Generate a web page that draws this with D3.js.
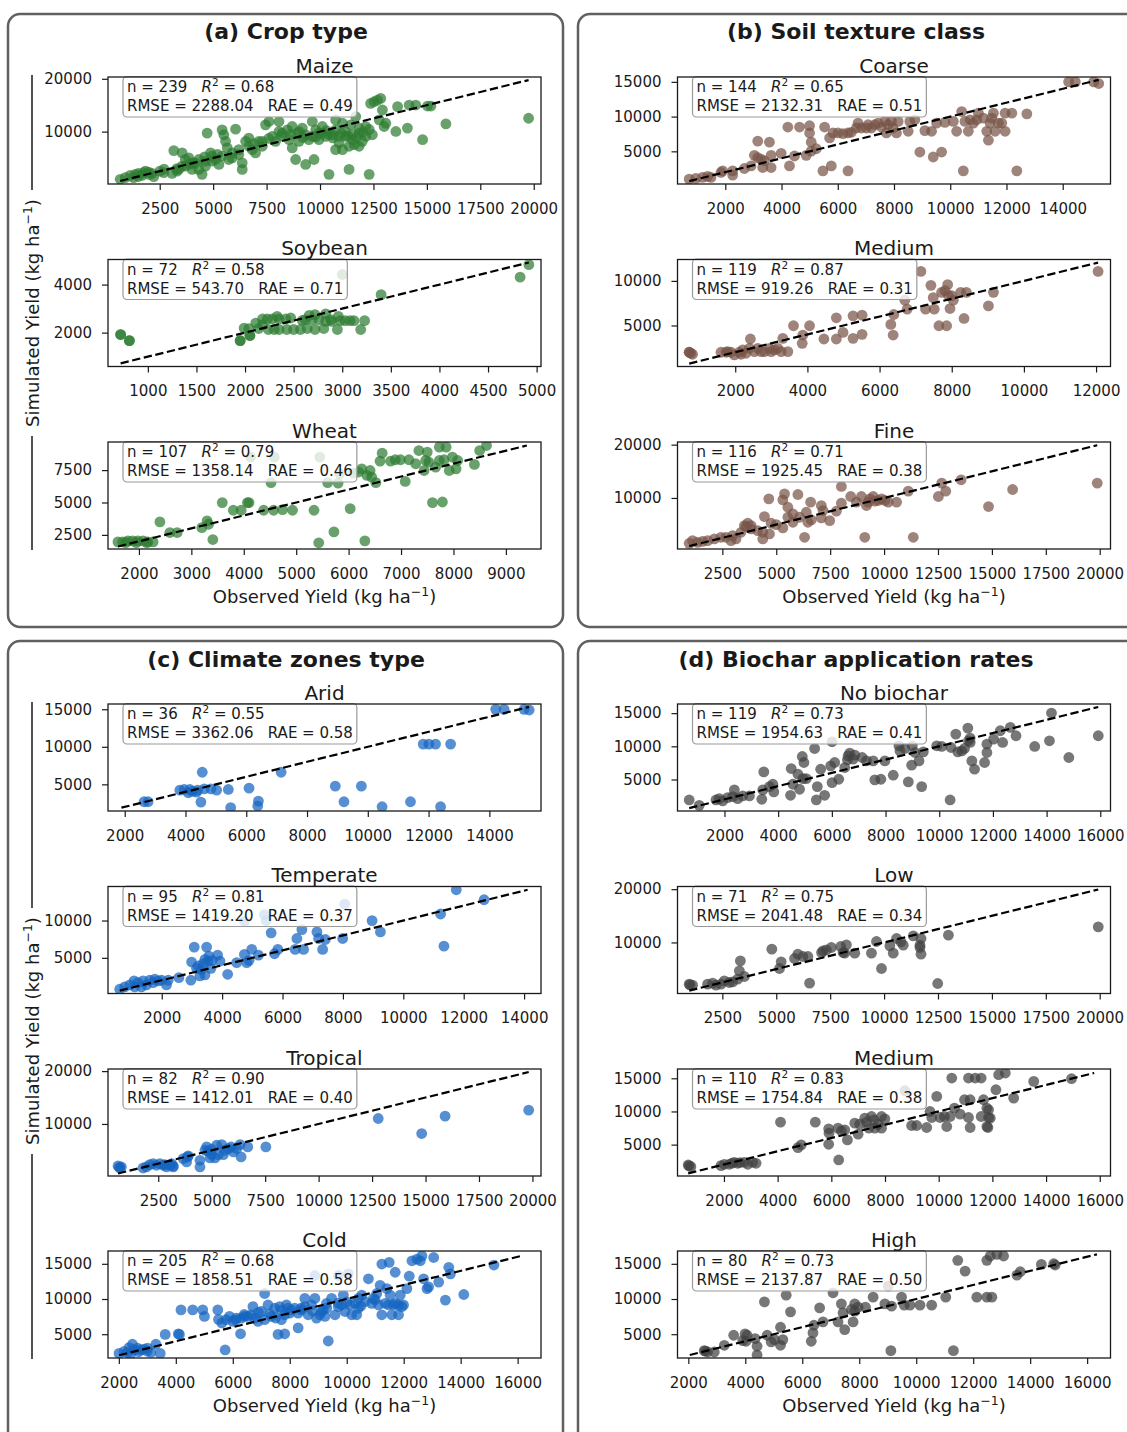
<!DOCTYPE html>
<html>
<head>
<meta charset="utf-8">
<script src="https://cdn.jsdelivr.net/npm/d3@7"></script>
<style>
  body { margin: 0; background: #fff; }
  svg { display: block; }
  text { font-family: "DejaVu Sans", sans-serif; }
</style>
</head>
<body>
<svg id="chart"></svg>
<script>
// observed vs simulated yield, [observed, simulated] pairs
const maize = [[650,970],[890,1280],[1120,1720],[1360,1910],[1510,2100],[1750,2220],[1980,2340],[2220,1470],[1280,1280],[1670,1720],[1830,2530],[2140,2100],[2690,2220],[3080,2100],[3160,6410],[3310,2530],[3550,3470],[3550,5970],[3700,4720],[3860,5030],[3940,3780],[4020,2840],[4170,4090],[4330,2840],[4480,1910],[4640,4410],[4720,9720],[4880,5970],[4950,5340],[5110,4720],[5270,3780],[5420,10340],[5500,9410],[5580,8160],[5660,6910],[5730,4720],[5890,5970],[6050,10470],[6200,6590],[6360,2840],[6360,4090],[6520,8160],[6670,8780],[6830,6590],[6980,5970],[7140,8160],[7300,7220],[7450,11280],[7610,11910],[7770,9090],[7920,8160],[8080,11910],[8230,9720],[8470,10340],[8630,9410],[8700,6910],[8860,4720],[9020,8160],[9170,10660],[9330,3780],[9480,8470],[9640,11910],[9720,4720],[9950,9720],[10110,10970],[10270,9090],[10420,1910],[10580,9410],[10730,10340],[10890,7840],[11050,11590],[11200,10030],[11360,2840],[11520,8470],[11670,12840],[11830,9720],[11980,8160],[12140,10970],[12300,1910],[12370,15340],[12530,15660],[12690,15970],[12840,16280],[12920,14090],[13000,10970],[13080,11590],[13550,10030],[13630,14720],[14090,10660],[14170,15030],[14480,15030],[14800,8470],[15030,14840],[15190,14840],[15890,11470],[19760,12530],[9640,9090],[9950,8470],[9330,9410],[10890,9090],[11200,9090],[11520,9410],[11830,10660],[12140,9090],[12450,9410],[12770,12220],[9020,10030],[8550,8470],[7300,8160],[6670,7220],[6200,5660],[5890,5030],[5420,5340],[4950,4410],[4640,3470],[4330,4720],[4020,4090],[3700,3470],[3390,2840],[11360,7220],[11600,7530],[11830,7220],[11050,6590],[10730,6590],[10110,9720],[8700,10970],[8940,9720],[9800,10340],[8080,10030],[10730,12220],[11440,11280],[10400,9500],[10600,8800],[11000,9700],[11700,8900],[12000,9900],[9200,8900],[9800,9000],[10300,10200],[11300,9200],[12300,10400],[7600,8700],[8200,9200],[6900,7700],[5200,5700],[4600,5200],[3300,3000],[2700,2900],[2000,1900],[1500,1500],[2500,2500]];
const soybean = [[720,1920],[720,1920],[810,1670],[810,1670],[1950,1670],[1950,1670],[2050,1880],[2050,1880],[1990,2190],[2040,2170],[2140,2170],[2230,2570],[2240,2130],[2280,2570],[2350,2570],[2350,2130],[2420,2570],[2430,2130],[2470,2610],[2500,2130],[2570,2130],[2620,2540],[2640,2170],[2660,2720],[2720,2750],[2720,2130],[2760,2540],[2810,2170],[2830,2780],[2880,2540],[2950,2130],[2960,2680],[2980,2500],[3030,2500],[3120,2500],[3190,2130],[3230,2500],[3000,4420],[3400,3580],[4830,4310],[4920,4830],[2180,2570],[2300,2130],[2590,2510],[2690,2540],[2890,2470],[3080,2500],[2330,2680],[2110,2400],[2180,2330],[2830,2470]];
const wheat = [[1600,1960],[1690,1960],[1790,2040],[1880,2040],[1980,2040],[2080,2040],[2170,1960],[2270,1960],[1750,1900],[1950,1900],[2150,1900],[2400,3500],[2590,2680],[2730,2680],[3200,3060],[3300,3580],[3330,3320],[3410,2140],[3590,4990],[3800,4400],[3950,4400],[4070,4990],[4100,4990],[4380,4400],[4520,6530],[4570,4400],[4740,4450],[4930,4400],[5340,4400],[5430,1890],[5600,6530],[5720,2730],[5800,6500],[5830,7220],[6030,4530],[6090,7270],[6250,7600],[6310,2040],[6350,7090],[6410,7470],[6520,6530],[6600,8190],[6640,8810],[6800,8190],[6890,8300],[6990,8300],[7080,6630],[7150,8300],[7280,7990],[7340,9010],[7440,7470],[7500,8890],[7530,8120],[7600,4990],[7660,7730],[7730,9270],[7790,5040],[7820,8300],[7860,9270],[7920,7470],[8050,7600],[8080,8240],[8400,7940],[8500,9010],[8630,9400],[6190,7350],[6440,6960],[7730,8240],[7980,8500],[7470,8240],[4130,8500],[4580,8500],[5450,8500]];
const coarse = [[716,1011],[954,1106],[1192,1248],[1370,1390],[1489,1248],[1846,1959],[1905,2196],[2262,2196],[2262,1580],[2678,2528],[2916,2907],[3035,4424],[3154,6462],[3273,3855],[3332,2670],[3570,6320],[3629,4424],[3629,2670],[3986,4708],[4283,2907],[4461,4329],[4224,8500],[4640,8500],[4878,4424],[4997,8690],[4997,7647],[5056,6320],[5056,5040],[5234,5372],[5472,2196],[5532,8500],[5769,2907],[5710,6936],[5829,7647],[6007,7647],[6186,7552],[6364,7647],[6364,2196],[6483,7742],[6721,9069],[6840,8358],[7018,8358],[7196,8358],[7315,8832],[7434,9069],[7553,8500],[7672,9306],[7731,7647],[7910,9306],[7969,8358],[8088,7647],[8147,9306],[8504,7884],[8564,9306],[8920,4898],[9099,7979],[9336,7884],[9396,4187],[9515,9069],[9693,4898],[9812,9164],[10109,9306],[10228,7884],[10407,10728],[10466,2196],[10525,9306],[10644,7884],[10704,9543],[10942,9543],[11001,10491],[11179,9780],[11298,7884],[11358,6604],[11417,9069],[11536,10491],[11596,7884],[11714,9069],[11833,9069],[11952,10491],[11952,7884],[12190,10491],[12368,2196],[12725,10396],[14211,14994],[14449,14994],[15103,14994],[15281,14757],[3154,4092],[3392,3618],[7077,8832],[7791,8832],[6661,8358],[8742,9543],[10823,9069],[11477,9780]];
const mediumSoil = [[724,1997],[724,1997],[817,1775],[770,1880],[1605,1997],[1744,1997],[1883,1997],[1975,1700],[2114,1997],[2207,2258],[2300,1886],[2392,2443],[2420,3483],[2531,2072],[2624,2443],[2809,2072],[2948,2443],[3087,2258],[3180,2443],[3272,2072],[3319,3558],[3458,2072],[3615,4969],[3856,3000],[3875,3929],[4060,4969],[4458,3483],[4802,5861],[4802,3483],[4987,4226],[5265,6084],[5265,3558],[5515,6158],[5515,4004],[6312,5118],[6377,3929],[6395,6233],[6700,7830],[6765,6827],[7145,11062],[7275,6827],[7423,9501],[7488,8127],[7516,6827],[7645,4969],[7720,8720],[7859,4969],[7887,9576],[7905,8387],[7952,6901],[8044,7830],[8248,8720],[8341,5787],[8406,8720],[9017,7198],[9156,8720],[12056,11062],[7813,8905],[7998,8348],[1790,2072],[2160,1775],[2716,2072],[2994,2072]];
const fine = [[963,1487],[1118,1989],[1351,1675],[1583,1863],[1816,1989],[2126,2303],[2436,2616],[2669,2616],[2902,1989],[3134,2303],[2979,2930],[3367,3558],[3522,4813],[3677,5252],[3832,4185],[4142,3872],[4375,2303],[4375,3558],[4452,6507],[4654,9833],[4763,5252],[4995,5001],[5305,4373],[5383,10774],[5305,9644],[5538,8264],[5538,6381],[5771,5440],[5771,7009],[6003,10648],[6081,6381],[6313,2616],[6468,5440],[6391,7322],[6593,9205],[6624,5879],[7089,8578],[7167,7636],[7089,6256],[7477,5754],[7787,7511],[8020,12154],[8020,9017],[8454,10272],[8718,9205],[8950,10272],[9105,2616],[9183,8578],[9338,9833],[9493,10272],[9726,9519],[9881,9833],[10191,9205],[10579,9205],[11122,11276],[11355,2616],[12518,10272],[12673,12781],[12859,11276],[13572,13409],[14844,8389],[15961,11590],[19885,12781],[10036,9519],[9571,9393],[9260,9205],[4685,3244],[3832,4813],[3600,4624]];
const arid = [[2638,2685],[2770,2685],[3815,4228],[3958,4317],[4090,3876],[4222,4052],[4398,4228],[4508,2641],[4552,6610],[4618,4405],[4838,4405],[5025,4228],[5410,4317],[5487,1891],[6092,4493],[6400,2773],[6378,2112],[7148,6610],[8930,4758],[9216,2685],[9788,4758],[10470,2023],[11405,2685],[11823,10358],[12010,10358],[12230,10358],[12395,2023],[12725,10358],[14210,14989],[14485,14989],[15145,14989],[15310,14900],[4365,3964],[4145,4317]];
const temperate = [[607,797],[773,1108],[940,1374],[1083,1907],[1106,1108],[1216,1685],[1327,1108],[1382,1907],[1493,1374],[1604,1996],[1714,1685],[1770,2129],[1881,1907],[1991,1996],[2157,1374],[2213,1996],[2567,2351],[2965,2000],[2988,4438],[3076,6436],[3154,3594],[3264,2573],[3375,4216],[3430,4793],[3486,6436],[3541,4571],[3630,3594],[3674,4660],[3851,5370],[3928,4571],[4183,2795],[4482,4349],[4737,5459],[4814,4349],[4980,6125],[4892,4660],[5202,5370],[4737,9899],[5401,10787],[5457,9988],[5623,8345],[5734,5548],[5844,6125],[6420,6125],[6475,7590],[6641,8789],[6697,6125],[7139,8478],[7195,7590],[7328,6125],[7416,7457],[7992,7590],[8058,12208],[8965,9988],[9242,8478],[11235,10876],[11345,6569],[11755,14117],[12674,12785],[3209,3905],[3320,3461],[3430,2706],[3563,5237]];
const tropical = [[619,2048],[697,1668],[775,1859],[697,1800],[1792,1668],[1949,1859],[2105,2301],[2261,2491],[2418,2175],[2574,2491],[2731,2175],[2887,1859],[3043,2175],[3200,1859],[3122,2491],[3825,2808],[3872,3757],[3904,3947],[4451,1859],[4451,3124],[4764,5655],[4842,4833],[4998,4200],[4998,5212],[5155,3567],[5233,5972],[5468,6098],[5546,4200],[5780,5339],[5905,5655],[6015,4706],[6327,6098],[6374,3757],[6687,5655],[7532,5655],[12787,11034],[14820,8187],[15915,11477],[19825,12616],[4686,5022],[4920,3567],[5311,4200],[5624,5022],[6171,5339],[3669,3440],[2809,2301],[3200,2048]];
const cold = [[2008,2272],[2184,2550],[2360,3108],[2478,3573],[2537,2763],[2654,3015],[2772,2763],[2889,2875],[3007,3015],[3124,2411],[3300,3573],[3453,2272],[2419,2178],[3629,4968],[4088,5061],[4126,4968],[4182,8456],[4593,8456],[4946,8456],[5004,7526],[5474,8456],[5615,6596],[5733,2763],[5768,7061],[5885,7526],[6003,6828],[6120,7293],[6273,5061],[6297,7293],[6414,7526],[6532,7526],[6649,7758],[6708,8921],[6767,7293],[6884,6828],[7002,8223],[7119,10781],[7119,7061],[7237,9153],[7354,7526],[7472,8688],[7589,4968],[7648,8921],[7707,7061],[7824,5061],[7824,7758],[7883,9153],[7942,8688],[8059,8456],[8177,8688],[8294,7991],[8294,5898],[8412,8456],[8529,10083],[8529,8921],[8647,7758],[8764,9153],[8882,10083],[8940,7293],[9058,7758],[9175,8456],[9234,7526],[9293,9386],[9352,4038],[9469,10083],[9587,7758],[9704,8921],[9822,9153],[9880,10548],[10057,13571],[10115,9153],[10174,7758],[10292,9386],[10350,7758],[10409,10083],[10527,10548],[10644,9618],[10762,12873],[10879,9386],[10938,10083],[11055,10781],[11173,11943],[11232,7758],[11349,9386],[11408,11478],[11467,9153],[11526,10548],[11584,7758],[11643,9153],[11702,9386],[11819,7758],[11878,10548],[11937,8921],[11996,9153],[12113,11478],[12195,13245],[12289,15431],[12465,15663],[12583,15431],[12641,16128],[12700,12873],[12818,11478],[12876,11711],[13053,15896],[13229,12408],[13464,9851],[13582,14500],[13640,13571],[14110,10641],[15168,14826],[11232,14966],[11490,15198],[11702,13803],[9117,8223],[9939,8223],[10409,8688],[11819,9153],[11114,9153],[8882,13338],[9704,13338],[6400,7800],[6900,8100],[7300,7900],[7700,8400],[8000,8000],[8400,8700],[8800,8300],[9300,8700],[9700,9400],[10000,9600],[10500,9000],[11000,9900],[7500,7300],[6100,7000],[5500,7100],[3000,2600],[2700,2500],[2300,2400]];
const noBiochar = [[686,1913],[1060,1107],[1683,1913],[1808,2115],[1932,1762],[2119,2266],[2306,2417],[2368,3425],[2493,2115],[2680,2518],[2929,2518],[3390,2014],[3427,3425],[3465,6147],[3676,3929],[3801,4282],[3838,3123],[4461,2619],[4486,6651],[4549,4282],[4736,5794],[4798,3526],[4898,8465],[4960,7558],[4923,5139],[5047,5139],[5358,9675],[5421,1913],[5458,3929],[5583,6550],[5732,2619],[5957,7054],[6007,4534],[6106,7558],[6256,5038],[6480,6802],[6580,7961],[6667,8969],[6792,8062],[6854,8667],[7128,8314],[7290,7810],[7539,7810],[7601,4937],[7826,5038],[8287,5643],[8499,10078],[8536,9322],[8723,9675],[8848,4635],[8972,7155],[8997,10078],[9097,9070],[9246,7810],[9346,3929],[9408,9171],[9906,10078],[10093,9977],[10405,1913],[10442,9826],[10617,11842],[10692,9171],[10941,9675],[11066,12751],[11153,11238],[11153,10582],[11215,7810],[11315,6550],[11689,7558],[11776,10330],[11776,9070],[12025,11086],[12274,12346],[12362,10582],[12648,12850],[12860,11590],[13557,9977],[14106,10834],[14181,15017],[14828,8314],[15924,11590],[6605,8566],[10841,9322],[11090,10834],[7975,7810],[6007,10683]];
const low = [[963,2171],[1000,2050],[1118,1984],[1816,2171],[2049,2359],[2204,1984],[2436,2171],[2591,2797],[2824,2484],[2979,2609],[3212,3110],[3289,4673],[3336,6550],[3522,3610],[4794,8739],[5150,5112],[5228,6363],[5848,6988],[6003,7801],[6236,7363],[6468,7363],[6546,2359],[7167,8426],[7322,8614],[7554,9052],[7988,9239],[8175,7989],[8253,9552],[8640,7989],[9415,7989],[9648,10178],[9881,5112],[10268,9365],[10424,7989],[10579,10741],[10781,10115],[10889,9490],[11355,11241],[11665,9490],[11712,10741],[11712,7801],[12487,2296],[12983,11366],[19932,12930],[8098,8114],[11665,9052],[7100,8100]];
const mediumRate = [[669,1933],[768,1681],[700,1800],[1890,1832],[2014,2034],[2201,2034],[2388,2336],[2513,2185],[2762,2336],[2886,2034],[3073,2336],[3198,2185],[4108,8384],[4756,4554],[4880,4957],[5403,8384],[5902,7377],[5914,6721],[5902,5058],[6250,7477],[6275,2689],[6375,7074],[6500,7225],[6599,5713],[6874,8233],[6998,6570],[7060,8082],[7247,8989],[7310,8384],[7397,7477],[7497,9241],[7596,8737],[7621,7477],[7746,8082],[7870,7477],[7870,9241],[7995,8888],[8743,13122],[8992,7880],[9179,7880],[9553,7578],[9677,9997],[9740,9090],[9927,12265],[10051,9090],[10213,9241],[10300,7729],[10425,9241],[10487,15037],[10587,10501],[10799,9594],[10961,11761],[11110,15037],[11110,9090],[11172,7578],[11172,11761],[11359,15037],[11583,15037],[11583,9241],[11670,11761],[11795,10501],[11833,7578],[11858,9090],[11920,8989],[12132,13273],[12232,15541],[12481,15793],[12793,12013],[13540,14533],[14948,14936],[11795,7729],[11858,10249],[2300,2200],[2600,2300]];
const high = [[2559,2665],[2677,2475],[2911,2475],[3264,3425],[3592,4850],[3909,4090],[3991,5040],[4062,4850],[4027,3995],[4344,4375],[4414,3283],[4414,2050],[4672,9600],[4766,4850],[4907,3900],[5025,4233],[5236,5990],[5318,4233],[5236,3425],[5436,10550],[5588,8175],[6316,3995],[6375,5183],[6410,6275],[6610,8745],[6727,6750],[7079,10882],[7255,6750],[7373,9315],[7432,8033],[7490,5658],[7784,6750],[7842,9315],[7842,8270],[7960,8840],[8218,8840],[8488,10265],[8899,9315],[9110,2665],[9134,8983],[9486,10265],[9580,9125],[9780,9125],[10132,9125],[10543,9125],[11036,10265],[11306,2665],[11458,15490],[11716,13970],[12127,10265],[12480,15490],[12480,10265],[12597,16108],[12656,10265],[12832,16345],[13067,16108],[13536,13400],[13653,13875],[14393,14920],[14828,15015],[14877,14825],[7725,8507],[9016,11832],[2600,2600]];

const pointSets = [maize, soybean, wheat, coarse, mediumSoil, fine, arid, temperate, tropical, cold, noBiochar, low, mediumRate, high];

const panelTitles = ["(a) Crop type", "(b) Soil texture class", "(c) Climate zones type", "(d) Biochar application rates"];
const subNames = ["Maize", "Soybean", "Wheat", "Coarse", "Medium", "Fine", "Arid", "Temperate", "Tropical", "Cold", "No biochar", "Low", "Medium", "High"];
const nVals = [239, 72, 107, 144, 119, 116, 36, 95, 82, 205, 119, 71, 110, 80];
const r2Vals = [0.68, 0.58, 0.79, 0.65, 0.87, 0.71, 0.55, 0.81, 0.90, 0.68, 0.73, 0.75, 0.83, 0.73];
const rmseVals = [2288.04, 543.70, 1358.14, 2132.31, 919.26, 1925.45, 3362.06, 1419.20, 1412.01, 1858.51, 1954.63, 2041.48, 1754.84, 2137.87];
const raeVals = [0.49, 0.71, 0.46, 0.51, 0.31, 0.38, 0.58, 0.37, 0.40, 0.58, 0.41, 0.34, 0.38, 0.50];

// same limits on both axes of every subplot
const axisLims = [[80,20340],[590,5045],[1410,9670],[300,15700],[400,12400],[420,20500],[1450,15700],[220,14560],[150,20400],[1620,16820],[250,16380],[420,20500],[270,16400],[1620,16820]];

const xTicks = [
  d3.range(2500, 20001, 2500), d3.range(1000, 5001, 500), d3.range(2000, 9001, 1000),
  d3.range(2000, 14001, 2000), d3.range(2000, 12001, 2000), d3.range(2500, 20001, 2500),
  d3.range(2000, 14001, 2000), d3.range(2000, 14001, 2000), d3.range(2500, 20001, 2500), d3.range(2000, 16001, 2000),
  d3.range(2000, 16001, 2000), d3.range(2500, 20001, 2500), d3.range(2000, 16001, 2000), d3.range(2000, 16001, 2000)
];
const yTicks = [
  [10000, 20000], [2000, 4000], [2500, 5000, 7500],
  [5000, 10000, 15000], [5000, 10000], [10000, 20000],
  [5000, 10000, 15000], [5000, 10000], [10000, 20000], [5000, 10000, 15000],
  [5000, 10000, 15000], [10000, 20000], [5000, 10000, 15000], [5000, 10000, 15000]
];

const panelColors = ["#2e7d32", "#795548", "#1565c0", "#424242"];

const width = 1127, height = 1432;
const axW = 433, axH = 107;
const colLeft = [108, 677.5];
const rowsTop = [[77, 259.5, 442], [704, 886.5, 1069, 1251]];
const ink = "#1a1a1a";

const svg = d3.select("#chart").attr("width", width).attr("height", height);
svg.append("rect").attr("width", width).attr("height", height).attr("fill", "#fff");

// panel frames
const frames = [[8, 14, 555, 613], [578, 14, 562, 613], [8, 641, 555, 810], [578, 641, 562, 810]];
frames.forEach(f => {
    svg.append("rect")
        .attr("x", f[0]).attr("y", f[1]).attr("width", f[2]).attr("height", f[3])
        .attr("rx", 12).attr("fill", "none")
        .attr("stroke", "#606060").attr("stroke-width", 2.5);
});

// panel titles
panelTitles.forEach((t, p) => {
    svg.append("text")
        .attr("x", p % 2 === 0 ? 286 : 856)
        .attr("y", p < 2 ? 39 : 667)
        .attr("text-anchor", "middle")
        .attr("font-size", 22).attr("font-weight", "bold").attr("fill", ink)
        .text(t);
});

function addUnitLabel(sel, main) {
    sel.append("tspan").text(main);
    sel.append("tspan").attr("font-size", 12.5).attr("dy", -7).text("\u22121");
    sel.append("tspan").attr("dy", 7).text(")");
}

subNames.forEach((name, i) => {
    const panel = i < 3 ? 0 : i < 6 ? 1 : i < 10 ? 2 : 3;
    const row = i - [0, 3, 6, 10][panel];
    const left = colLeft[panel % 2];
    const top = rowsTop[panel < 2 ? 0 : 1][row];
    const pts = pointSets[i];

    const x = d3.scaleLinear().domain(axisLims[i]).range([left, left + axW]);
    const y = d3.scaleLinear().domain(axisLims[i]).range([top + axH, top]);

    const g = svg.append("g");
    const clipId = "clip" + i;
    g.append("clipPath").attr("id", clipId)
        .append("rect").attr("x", left).attr("y", top).attr("width", axW).attr("height", axH);

    // scatter
    g.append("g").attr("clip-path", `url(#${clipId})`)
        .selectAll("circle").data(pts).join("circle")
        .attr("cx", d => x(d[0]))
        .attr("cy", d => y(d[1]))
        .attr("r", 5.4)
        .attr("fill", panelColors[panel])
        .attr("fill-opacity", 0.72);

    // 1:1 line
    const ext = d3.extent(pts.flat());
    g.append("line")
        .attr("x1", x(ext[0])).attr("y1", y(ext[0]))
        .attr("x2", x(ext[1])).attr("y2", y(ext[1]))
        .attr("stroke", "#000").attr("stroke-width", 2.2)
        .attr("stroke-dasharray", "8.3,3.6");

    // stats box
    const box = g.append("g").attr("font-size", 15).attr("fill", ink);
    const rect = box.append("rect");
    const t1 = box.append("text").attr("x", left + 19).attr("y", top + 15).style("white-space", "pre");
    t1.append("tspan").text(`n = ${nVals[i]}   `);
    t1.append("tspan").attr("font-style", "italic").text("R");
    t1.append("tspan").attr("font-size", 10.5).attr("dy", -6).text("2");
    t1.append("tspan").attr("dy", 6).text(` = ${r2Vals[i].toFixed(2)}`);
    const t2 = box.append("text").attr("x", left + 19).attr("y", top + 34).style("white-space", "pre")
        .text(`RMSE = ${rmseVals[i].toFixed(2)}   RAE = ${raeVals[i].toFixed(2)}`);
    const tw = Math.max(t1.node().getComputedTextLength(), t2.node().getComputedTextLength());
    rect.attr("x", left + 15).attr("y", top - 0.5)
        .attr("width", tw + 8).attr("height", 40.5).attr("rx", 4)
        .attr("fill", "#fff").attr("fill-opacity", 0.8)
        .attr("stroke", "#9a9a9a").attr("stroke-width", 1.2);

    // axes
    const gx = g.append("g")
        .attr("transform", `translate(0,${top + axH})`)
        .call(d3.axisBottom(x).tickValues(xTicks[i]).tickSize(6).tickPadding(13).tickFormat(d3.format("d")));
    const gy = g.append("g")
        .attr("transform", `translate(${left},0)`)
        .call(d3.axisLeft(y).tickValues(yTicks[i]).tickSize(6).tickPadding(10).tickFormat(d3.format("d")));
    [gx, gy].forEach(a => {
        a.select(".domain").remove();
        a.attr("font-size", 15).attr("font-family", "DejaVu Sans").style("color", ink);
        a.selectAll("line").attr("stroke-width", 1.2);
    });

    g.append("rect")
        .attr("x", left).attr("y", top).attr("width", axW).attr("height", axH)
        .attr("fill", "none").attr("stroke", ink).attr("stroke-width", 1.3);

    // subplot title
    g.append("text")
        .attr("x", left + axW / 2).attr("y", top - 4.5)
        .attr("text-anchor", "middle").attr("font-size", 20).attr("fill", ink)
        .text(name);
});

// x labels
[0, 1, 2, 3].forEach(p => {
    const t = svg.append("text")
        .attr("x", colLeft[p % 2] + axW / 2)
        .attr("y", p < 2 ? 603 : 1412)
        .attr("text-anchor", "middle").attr("font-size", 18).attr("fill", ink);
    addUnitLabel(t, "Observed Yield (kg ha");
});

// y labels with guide line (panels a and c)
[[77, 549], [704, 1358]].forEach(span => {
    const cy = (span[0] + span[1]) / 2;
    const t = svg.append("text")
        .attr("transform", `translate(38.5,${cy}) rotate(-90)`)
        .attr("text-anchor", "middle").attr("font-size", 18).attr("fill", ink);
    addUnitLabel(t, "Simulated Yield (kg ha");
    const half = t.node().getComputedTextLength() / 2 + 9;
    svg.append("line").attr("x1", 32).attr("x2", 32)
        .attr("y1", span[0] - 2).attr("y2", cy - half)
        .attr("stroke", ink).attr("stroke-width", 1.5);
    svg.append("line").attr("x1", 32).attr("x2", 32)
        .attr("y1", cy + half).attr("y2", span[1] + 1)
        .attr("stroke", ink).attr("stroke-width", 1.5);
});
</script>
</body>
</html>
